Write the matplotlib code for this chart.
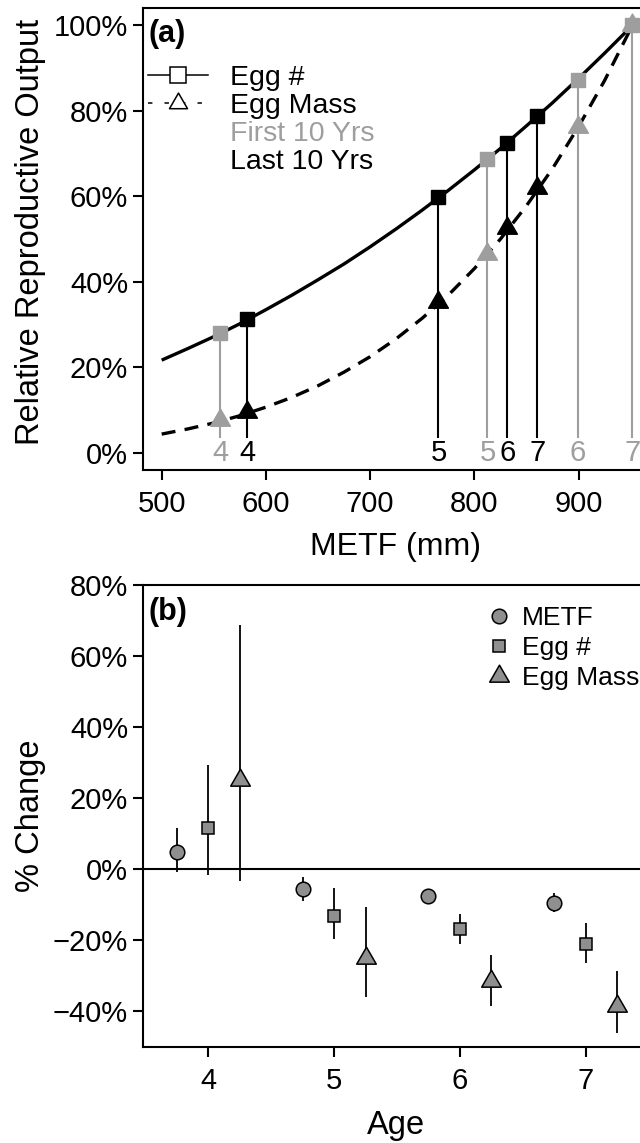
import matplotlib
matplotlib.use("Agg")
import matplotlib.pyplot as plt
from matplotlib.lines import Line2D
from matplotlib.path import Path
import numpy as np

plt.rcParams['font.family'] = ['Liberation Sans', 'DejaVu Sans']

# ---------------- Panel (a) data ----------------
ages = [4, 5, 6, 7]
age_labels = ['4', '5', '6', '7']

# First 10 years (grey)
metf_first = [556.0, 812.6, 899.5, 951.7]
eggnum_first = [0.280, 0.688, 0.873, 1.000]
eggmass_first = [0.077, 0.465, 0.763, 1.000]

# Last 10 years (black)
metf_last = [582.3, 765.6, 831.8, 860.5]
eggnum_last = [0.313, 0.598, 0.726, 0.789]
eggmass_last = [0.095, 0.354, 0.526, 0.620]

# Fitted curves
curve_metf = [500, 525, 550, 575, 600, 625, 650, 675, 700, 725, 750,
              775, 800, 825, 850, 875, 900, 925, 951.7]
curve_eggnum = [0.217, 0.244, 0.272, 0.302, 0.335, 0.369, 0.405, 0.442,
                0.482, 0.524, 0.568, 0.614, 0.662, 0.712, 0.765, 0.819,
                0.876, 0.935, 1.000]
curve_eggmass = [0.044, 0.056, 0.070, 0.087, 0.107, 0.130, 0.157, 0.189,
                 0.225, 0.267, 0.315, 0.369, 0.431, 0.500, 0.578, 0.665,
                 0.763, 0.871, 1.000]

a_xticks = [500, 600, 700, 800, 900]
a_yticks = [0.0, 0.2, 0.4, 0.6, 0.8, 1.0]
a_yticklabels = ['0%', '20%', '40%', '60%', '80%', '100%']

# ---------------- Panel (b) data (% change) ----------------
metf_chg = [4.9, -5.7, -7.5, -9.4]
metf_lo = [-0.8, -8.9, -8.6, -12.2]
metf_hi = [11.7, -2.2, -6.4, -6.6]

eggnum_chg = [11.7, -13.1, -16.9, -21.0]
eggnum_lo = [-1.7, -19.6, -21.2, -26.3]
eggnum_hi = [29.3, -5.4, -12.5, -15.1]

eggmass_chg = [25.1, -25.0, -31.5, -38.4]
eggmass_lo = [-3.3, -36.0, -38.5, -46.1]
eggmass_hi = [68.7, -10.8, -24.2, -28.7]

b_xticks = [4, 5, 6, 7]
b_yticks = [-40, -20, 0, 20, 40, 60, 80]
b_yticklabels = ['\u221240%', '\u221220%', '0%', '20%', '40%', '60%', '80%']

# ---------------- styles ----------------
GREY_A = '#9e9e9e'
GREY_B = '#8f8f8f'
STEM_BASE = 0.036
OFFSETS = [-0.25, 0.0, 0.25]
TICK_FS = 21
XLABEL_FS = 23
YLABEL_FS = 23.5
LEG_FS = 20.5
LEG_B_FS = 19

tri = Path([(0, 1), (-0.866, -0.5), (0.866, -0.5), (0, 1)], closed=True)

fig = plt.figure(figsize=(6.4, 11.43), dpi=100)
axA = fig.add_axes([0.2233, 0.5888, 0.7902, 0.4039])
axB = fig.add_axes([0.2233, 0.08425, 0.7902, 0.4039])

for ax in (axA, axB):
    for s in ax.spines.values():
        s.set_linewidth(1.5)
    ax.tick_params(direction='out', length=7.2, width=1.5, labelsize=TICK_FS,
                   color='black')
    ax.tick_params(axis='y', pad=3.5)
    ax.tick_params(axis='x', pad=7.5)

# ---------------- Panel (a) ----------------
axA.plot(curve_metf, curve_eggnum, color='black', lw=2.4, zorder=2,
         solid_capstyle='butt')
axA.plot(curve_metf, curve_eggmass, color='black', lw=2.4, zorder=2,
         linestyle=(0, (4.2, 2.8)))

axA.vlines(metf_first, STEM_BASE, eggnum_first, color=GREY_A, lw=1.5, zorder=3)
axA.vlines(metf_last, STEM_BASE, eggnum_last, color='black', lw=1.5, zorder=3)

axA.plot(metf_first, eggmass_first, linestyle='none', marker=tri, ms=16.5,
         color=GREY_A, mec=GREY_A, zorder=4)
axA.plot(metf_first, eggnum_first, linestyle='none', marker='s', ms=10.5,
         color=GREY_A, mec=GREY_A, zorder=4)
axA.plot(metf_last, eggmass_last, linestyle='none', marker=tri, ms=16.5,
         color='black', zorder=4)
axA.plot(metf_last, eggnum_last, linestyle='none', marker='s', ms=10.5,
         color='black', zorder=4)

for x, lab in zip(metf_first, age_labels):
    axA.text(x, 0.0, lab, color=GREY_A, fontsize=TICK_FS, ha='center',
             va='center', zorder=5)
for x, lab in zip(metf_last, age_labels):
    axA.text(x, 0.0, lab, color='black', fontsize=TICK_FS, ha='center',
             va='center', zorder=5)

axA.set_xlim(482, 967.3)
axA.set_ylim(-0.04, 1.04)
axA.set_xticks(a_xticks)
axA.set_yticks(a_yticks)
axA.set_yticklabels(a_yticklabels)
axA.set_xlabel('METF (mm)', fontsize=XLABEL_FS)
axA.set_ylabel('Relative Reproductive Output', fontsize=YLABEL_FS)
axA.xaxis.set_label_coords(0.5, -0.134)
axA.yaxis.set_label_coords(-0.192, 0.515)
axA.text(0.012, 0.977, '(a)', transform=axA.transAxes, fontsize=22,
         fontweight='bold', ha='left', va='top')

hA1 = Line2D([], [], color='black', lw=1.1, marker='s', ms=11,
             mfc='white', mec='black', mew=1.1)
hA2 = Line2D([], [], color='black', lw=1.1, linestyle=(0, (2.9, 7.9)),
             marker=tri, ms=15, mfc='white', mec='black', mew=1.1)
hA3 = Line2D([], [], linestyle='none')
hA4 = Line2D([], [], linestyle='none')
legA = axA.legend([hA1, hA2, hA3, hA4],
                  ['Egg #', 'Egg Mass', 'First 10 Yrs', 'Last 10 Yrs'],
                  loc='upper left', bbox_to_anchor=(0.0107, 0.8777),
                  frameon=False, fontsize=LEG_FS, handlelength=2.1,
                  handletextpad=0.78, labelspacing=0.07, borderpad=0,
                  borderaxespad=0, numpoints=1)
legA.get_texts()[2].set_color(GREY_A)

# ---------------- Panel (b) ----------------
axB.axhline(0, color='black', lw=1.5, zorder=1)

series = [
    (metf_chg, metf_lo, metf_hi, 'o', 10.5, 'METF'),
    (eggnum_chg, eggnum_lo, eggnum_hi, 's', 8.8, 'Egg #'),
    (eggmass_chg, eggmass_lo, eggmass_hi, tri, 16.3, 'Egg Mass'),
]
handlesB = []
for (vals, lo, hi, mk, ms, name), off in zip(series, OFFSETS):
    xs = np.array(ages) + off
    v = np.array(vals)
    yerr = [v - np.array(lo), np.array(hi) - v]
    axB.errorbar(xs, v, yerr=yerr, fmt='none', ecolor='black', elinewidth=1.3,
                 capsize=0, zorder=2)
    axB.plot(xs, v, linestyle='none', marker=mk, ms=ms, mfc=GREY_B,
             mec='black', mew=1.1, zorder=3)
    handlesB.append(Line2D([], [], linestyle='none', marker=mk, ms=ms,
                           mfc=GREY_B, mec='black', mew=1.1))

axB.set_xlim(3.48, 7.5)
axB.set_ylim(-50, 80)
axB.set_xticks(b_xticks)
axB.set_yticks(b_yticks)
axB.set_yticklabels(b_yticklabels)
axB.set_xlabel('Age', fontsize=YLABEL_FS)
axB.set_ylabel('% Change', fontsize=YLABEL_FS)
axB.xaxis.set_label_coords(0.5, -0.138)
axB.yaxis.set_label_coords(-0.192, 0.5)
axB.text(0.012, 0.975, '(b)', transform=axB.transAxes, fontsize=22,
         fontweight='bold', ha='left', va='top')

axB.legend(handlesB, [s[5] for s in series], loc='upper left',
           bbox_to_anchor=(0.6814, 0.955), frameon=False, fontsize=LEG_B_FS,
           handlelength=0.85, handletextpad=0.45, labelspacing=0.23,
           borderpad=0, borderaxespad=0, numpoints=1)

fig.savefig('out.png', dpi=100)
